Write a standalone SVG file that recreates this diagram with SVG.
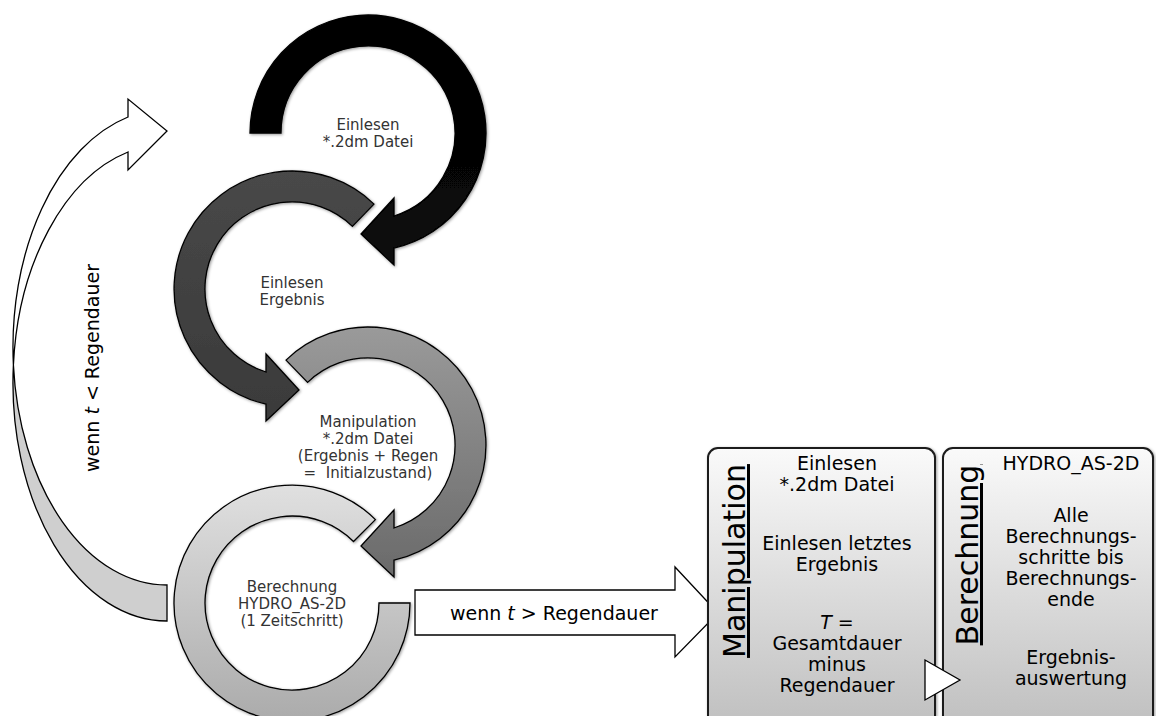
<svg xmlns="http://www.w3.org/2000/svg" width="1156" height="716" viewBox="0 0 1156 716">
<style>
.ring{stroke:#000;stroke-width:1.3;stroke-linejoin:miter;filter:url(#sh)}
.lbl{font-family:"DejaVu Sans",Verdana,sans-serif;font-size:15px;fill:#333;text-anchor:middle}
.big{font-family:"DejaVu Sans",Verdana,sans-serif;font-size:19px;fill:#000}
.pt{font-family:"DejaVu Sans",Verdana,sans-serif;font-size:19px;fill:#000;text-anchor:middle}
.title{font-family:"DejaVu Sans",Verdana,sans-serif;font-size:30px;fill:#000;text-anchor:middle;text-decoration:underline}
.panel{stroke:#1a1a1a;stroke-width:2;fill:url(#gp);filter:url(#sh)}
.wa{fill:#fff;stroke:#000;stroke-width:1.3;stroke-linejoin:miter}
</style>
<defs>
<filter id="sh" x="-10%" y="-10%" width="120%" height="120%">
<feDropShadow dx="1" dy="1" stdDeviation="1.5" flood-color="#000" flood-opacity="0.4"/>
</filter>
<linearGradient id="g1" x1="0" y1="0" x2="0" y2="1"><stop offset="0" stop-color="#000"/><stop offset="1" stop-color="#0a0a0a"/></linearGradient>
<linearGradient id="g2" x1="0" y1="0" x2="0" y2="1"><stop offset="0" stop-color="#484848"/><stop offset="1" stop-color="#3a3a3a"/></linearGradient>
<linearGradient id="g3" x1="0" y1="0" x2="0" y2="1"><stop offset="0" stop-color="#9a9a9a"/><stop offset="1" stop-color="#6a6a6a"/></linearGradient>
<linearGradient id="g4" x1="0" y1="0" x2="0" y2="1"><stop offset="0" stop-color="#e0e0e0"/><stop offset="1" stop-color="#ababab"/></linearGradient>
<linearGradient id="gp" x1="0" y1="0" x2="0" y2="1"><stop offset="0" stop-color="#fafafa"/><stop offset="1" stop-color="#bdbdbd"/></linearGradient>
</defs>
<rect width="1156" height="716" fill="#fff"/>

<g id="connectors">
<g id="loop-back">
<path d="M13.4 365 A154 237.9 0 0 0 167 621 L167 585 A154 237.9 0 0 1 13.4 365 Z" fill="#cfcfcf" stroke="#000" stroke-width="1.3"/>
<path class="wa" d="M128 117 L128 99 L167 131 L128 170 L128 152 A154 237.9 0 0 0 13.4 365 A154 237.9 0 0 1 128 117 Z"/>
<text class="big" transform="translate(99,368) rotate(-90)" text-anchor="middle">wenn <tspan font-style="italic">t</tspan> &lt; Regendauer</text>
</g>
<g id="to-panels">
<path class="wa" d="M415 590 L675 590 L675 567 L718 613 L675 657 L675 635 L415 635 Z"/>
<text class="big" x="450" y="620">wenn <tspan font-style="italic">t</tspan> &gt; Regendauer</text>
</g>
</g>

<g id="step4">
<path class="ring" fill="url(#g4)" d="M375.4 519.6 A118 118 0 1 0 410 603 L379 603 A87 87 0 1 1 353.5 541.5 Z"/>
<text class="lbl" x="292" y="592">Berechnung</text>
<text class="lbl" x="292" y="609">HYDRO_AS-2D</text>
<text class="lbl" x="292" y="626">(1 Zeitschritt)</text>
</g>

<g id="step3">
<path class="ring" fill="url(#g3)" d="M286 360.1 A118 118 0 1 1 394 560.1 L394 577 L361 546 L394 510 L394 528 A87 87 0 1 0 307.6 382.4 Z"/>
<text class="lbl" x="368" y="427">Manipulation</text>
<text class="lbl" x="368" y="444">*.2dm Datei</text>
<text class="lbl" x="368" y="461">(Ergebnis + Regen</text>
<text class="lbl" x="368" y="478" xml:space="preserve">=  Initialzustand)</text>
</g>

<g id="step2">
<path class="ring" fill="url(#g2)" d="M374 204.1 A118 118 0 1 0 266 404.1 L266 421 L299 390 L266 354 L266 372 A87 87 0 1 1 352.4 226.4 Z"/>
<text class="lbl" x="292" y="288">Einlesen</text>
<text class="lbl" x="292" y="305">Ergebnis</text>
</g>

<g id="step1">
<path class="ring" fill="url(#g1)" d="M250 133 A118 118 0 1 1 394 248.1 L394 265 L361 234 L394 198 L394 216 A87 87 0 1 0 281 133 Z"/>
<text class="lbl" x="368" y="130">Einlesen</text>
<text class="lbl" x="368" y="147">*.2dm Datei</text>
</g>

<g id="panel-manipulation">
<rect class="panel" x="708" y="448" width="227" height="290" rx="10"/>
<text class="title" transform="translate(745,561) rotate(-90)">Manipulation</text>
<text class="pt" x="837" y="470">Einlesen</text>
<text class="pt" x="837" y="491">*.2dm Datei</text>
<text class="pt" x="837" y="550">Einlesen letztes</text>
<text class="pt" x="837" y="571">Ergebnis</text>
<text class="pt" x="837" y="629"><tspan font-style="italic">T</tspan> =</text>
<text class="pt" x="837" y="650">Gesamtdauer</text>
<text class="pt" x="837" y="671">minus</text>
<text class="pt" x="837" y="692">Regendauer</text>
</g>

<g id="panel-berechnung">
<rect class="panel" x="943" y="448" width="210" height="290" rx="10"/>
<text class="title" transform="translate(978,555) rotate(-90)">Berechnung</text>
<text class="pt" x="1071" y="470">HYDRO_AS-2D</text>
<text class="pt" x="1071" y="522">Alle</text>
<text class="pt" x="1071" y="543">Berechnungs-</text>
<text class="pt" x="1071" y="564">schritte bis</text>
<text class="pt" x="1071" y="585">Berechnungs-</text>
<text class="pt" x="1071" y="606">ende</text>
<text class="pt" x="1071" y="664">Ergebnis-</text>
<text class="pt" x="1071" y="685">auswertung</text>
</g>

<g id="panel-link">
<path class="wa" d="M925 660 L960 680 L925 700 Z"/>
</g>
</svg>
